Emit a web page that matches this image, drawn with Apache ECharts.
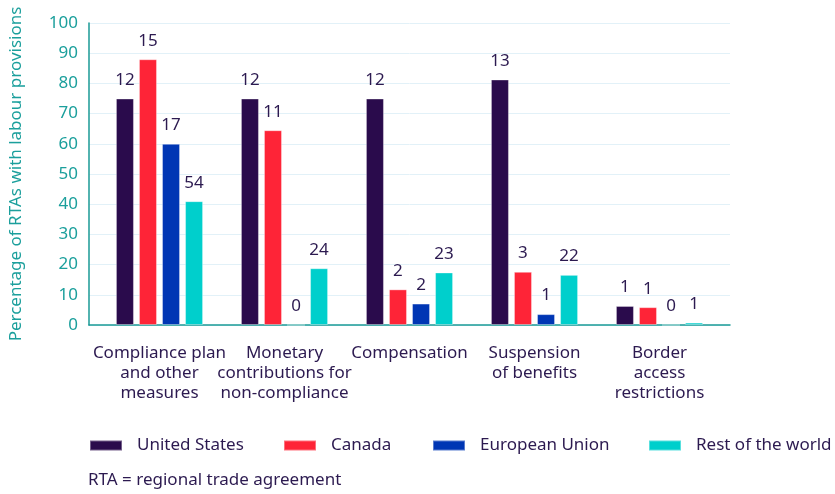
<!DOCTYPE html>
<html>
<head>
<meta charset="utf-8">
<script src="https://cdn.jsdelivr.net/npm/echarts@6/dist/echarts.min.js"></script>
<style>
html,body{margin:0;padding:0;background:#fff;}
#chart{width:835px;height:494px;}
</style>
</head>
<body>
<div id="chart"></div>
<script>
var categories = ['Compliance plan\nand other\nmeasures', 'Monetary\ncontributions for\nnon-compliance', 'Compensation', 'Suspension\nof benefits', 'Border\naccess\nrestrictions'];
var seriesNames = ['United States', 'Canada', 'European Union', 'Rest of the world'];
var usValues = [75, 75, 75, 81.3, 6.3];
var canadaValues = [88, 64.5, 11.8, 17.6, 5.9];
var euValues = [60, 0, 7.1, 3.6, 0];
var rowValues = [41, 18.8, 17.4, 16.6, 0.8];
var usCounts = [12, 12, 12, 13, 1];
var canadaCounts = [15, 11, 2, 3, 1];
var euCounts = [17, 0, 2, 1, 0];
var rowCounts = [54, 24, 23, 22, 1];
var yTicks = [0, 10, 20, 30, 40, 50, 60, 70, 80, 90, 100];
var footnote = 'RTA = regional trade agreement';

var colors = ['#2a0b4c', '#fe2437', '#0036b4', '#00cfcc'];
var textPurple = '#2c1a50';
var teal = '#1b9f9c';
var font = 'Noto Sans';
var fs = 17;

var valueSets = [usValues, canadaValues, euValues, rowValues];
var countSets = [usCounts, canadaCounts, euCounts, rowCounts];

var series = seriesNames.map(function (name, i) {
  return {
    name: name,
    type: 'bar',
    xAxisIndex: 1,
    yAxisIndex: 1,
    data: valueSets[i],
    barWidth: 18,
    barGap: '28%',
    itemStyle: { color: colors[i], borderColor: 'rgba(255,255,255,0.35)', borderWidth: 1 },
    label: {
      show: true,
      position: 'top',
      distance: 10,
      color: textPurple,
      fontSize: fs,
      fontFamily: font,
      formatter: function (p) { return countSets[i][p.dataIndex]; }
    }
  };
});

var legendLefts = [84, 278, 427, 643];
var legends = seriesNames.map(function (name, i) {
  return {
    data: [name],
    left: legendLefts[i], top: 432,
    icon: 'rect', itemWidth: 32, itemHeight: 10,
    textStyle: { color: textPurple, fontSize: fs, fontFamily: font, padding: [0, 0, 0, 10] }
  };
});

var chart = echarts.init(document.getElementById('chart'));
chart.setOption({
  backgroundColor: '#fff',
  animation: false,
  textStyle: { fontFamily: font },
  grid: [
    { left: 87, right: 105, top: 23, bottom: 169 },
    { left: 97, right: 113, top: 23, bottom: 169 }
  ],
  xAxis: [
    {
      gridIndex: 0, type: 'value', min: 0, max: 1,
      axisLine: { show: true, lineStyle: { color: '#1a9a96', width: 1.5 } },
      axisTick: { show: false }, axisLabel: { show: false }, splitLine: { show: false }
    },
    {
      gridIndex: 1, type: 'category', data: categories,
      axisLine: { show: false }, axisTick: { show: false },
      axisLabel: { interval: 0, color: textPurple, fontSize: fs, lineHeight: 20, margin: 18, fontFamily: font }
    }
  ],
  yAxis: [
    {
      gridIndex: 0, type: 'value', min: yTicks[0], max: yTicks[yTicks.length - 1], interval: 10,
      name: 'Percentage of RTAs with labour provisions',
      nameLocation: 'middle', nameGap: 64,
      nameTextStyle: { color: teal, fontSize: fs, fontFamily: font },
      axisLine: { show: true, lineStyle: { color: '#1a9a96', width: 1.5 } },
      axisTick: { show: false },
      axisLabel: { color: teal, fontSize: fs, margin: 11, fontFamily: font },
      splitLine: { show: true, lineStyle: { color: '#e2f1f8', width: 1 } }
    },
    {
      gridIndex: 1, type: 'value', min: 0, max: 100, show: false
    }
  ],
  legend: legends,
  graphic: [
    {
      type: 'text', left: 88, top: 472,
      style: { text: footnote, fill: textPurple, fontSize: fs, fontFamily: font }
    }
  ],
  series: series
});
</script>
</body>
</html>
